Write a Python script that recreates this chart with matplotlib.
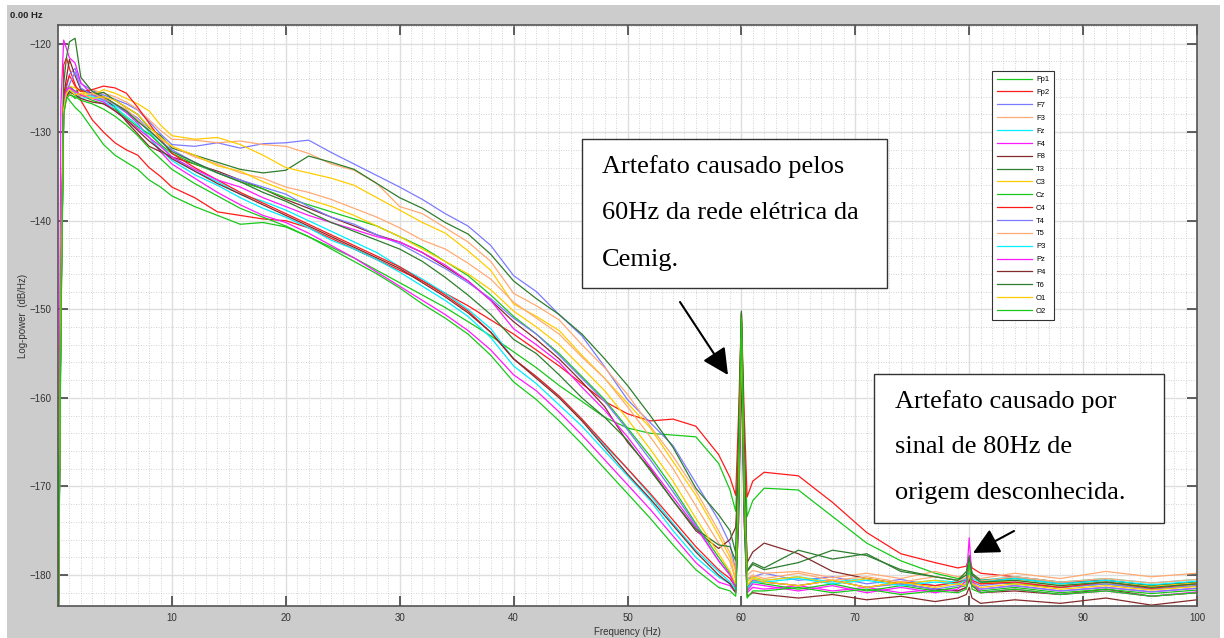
import numpy as np
import matplotlib
matplotlib.use("Agg")
import matplotlib.pyplot as plt
from matplotlib.patches import Rectangle, FancyArrowPatch
from matplotlib.ticker import MultipleLocator

# frequency grid (Hz) the values below were read at
freqs = [0, 0.25, 0.5, 0.75, 1, 1.5, 2, 3, 4,
         5, 6, 7, 8, 9,
         10, 12, 14, 16, 18, 20, 22, 24, 26, 28,
         30, 32, 34, 36, 38, 40, 42, 44, 46, 48,
         50, 52, 54, 56, 58,
         59, 59.5, 59.75, 60, 60.25, 60.5, 61,
         62, 65, 68, 71, 74, 77, 79,
         79.75, 80, 80.25, 81,
         84, 88, 92, 96, 100]

channels = ["Fp1", "Fp2", "F7", "F3", "Fz", "F4", "F8", "T3", "C3", "Cz",
            "C4", "T4", "T5", "P3", "Pz", "P4", "T6", "O1", "O2"]

# log-power (dB/Hz) per channel
fp1 = [-190, -150, -127.4, -126, -126.4, -127.2, -127.8, -129.6, -131.4,
       -132.6, -133.4, -134.2, -135.4, -136.2,
       -137.2, -138.4, -139.4, -140.4, -140.2, -140.7, -141.8, -143, -144.2, -145.6,
       -147, -148.4, -149.8, -151.4, -153, -154.8, -156.6, -158.6, -160.4, -162.2,
       -163.4, -164, -164.2, -164.4, -167.4,
       -170.4, -172.8, -165, -150.6, -165, -173.4, -171.6,
       -170.2, -170.4, -173.4, -176.4, -178.4, -179.8, -180.4,
       -180, -178.2, -180, -180.8,
       -181, -181.4, -181, -181.6, -181.2]
fp2 = [-190, -148, -122.4, -121.6, -122.8, -124.6, -126.4, -128.6, -130,
       -131.2, -132, -132.6, -134, -135,
       -136.2, -137.4, -139, -139.4, -139.8, -140, -140.8, -142, -143.2, -144.4,
       -145.6, -146.8, -148.2, -149.6, -151.2, -152.8, -154.6, -156.4, -158.4, -160.4,
       -161.8, -162.6, -162.4, -163.2, -166.4,
       -169, -171, -162, -150.4, -162, -171.2, -169.4,
       -168.4, -168.8, -171.8, -175.2, -177.6, -178.6, -179.2,
       -179, -178, -179.2, -179.8,
       -180.2, -180.8, -180.6, -181.2, -180.8]
f7 = [-190, -152, -127.5, -125, -123.5, -122.8, -124.5, -125.3, -125.8,
      -126.3, -126.8, -127.5, -128.8, -130.2,
      -131.4, -131.6, -131.2, -131.8, -131.3, -131.2, -130.9, -132.3, -133.6, -134.9,
      -136.2, -137.6, -139.2, -140.6, -142.8, -146.2, -148, -150.6, -153, -156.5,
      -160.2, -162.8, -165.4, -169.6, -173.8,
      -176.5, -179.5, -168, -151.5, -168, -180.5, -180.2,
      -179.8, -180.6, -180.2, -181, -180.5, -181.2, -180.8,
      -180.6, -179.8, -180.8, -181.2,
      -180.8, -181.4, -181, -181.6, -181.2]
f3 = [-190, -150, -127.8, -125.8, -125.2, -125.5, -125.8, -125.2, -125.6,
      -126, -126.6, -127.4, -128.6, -129.8,
      -130.8, -130.9, -131.2, -131, -131.4, -131.6, -132.4, -133.6, -134.3, -135.8,
      -138.4, -139.2, -140.8, -142.4, -144.6, -148.2, -149.6, -151.2, -154, -156.6,
      -159.6, -163.2, -166.6, -170.5, -175,
      -177.5, -179.6, -169, -152.5, -169, -180, -179.5,
      -179.8, -179.6, -180.3, -179.8, -180.4, -179.6, -180.2,
      -180, -179.2, -180.1, -180.4,
      -179.8, -180.4, -179.6, -180.2, -179.8]
fz = [-190, -152, -127.6, -125.8, -125.2, -125.6, -126, -125.8, -126.4,
      -127, -127.8, -128.6, -130, -131.4,
      -132.8, -134.4, -135.6, -137, -137.8, -138.8, -140, -141.2, -142.4, -143.6,
      -145.2, -146.6, -148.2, -150, -152.2, -155.6, -157.6, -159.8, -162.4, -165.4,
      -168, -171, -174.2, -177.2, -179.6,
      -180.8, -181.6, -172, -155, -172, -181.4, -180.4,
      -180.6, -180.2, -180.8, -180.4, -181, -180.6, -180.8,
      -180.4, -179.6, -180.2, -180.6,
      -180.2, -180.8, -180.4, -180.9, -180.5]
f4 = [-190, -127, -119.6, -120.6, -121.6, -122.2, -124.4, -125.8, -126,
      -126.8, -127.8, -129, -130.6, -132.2,
      -133.6, -135.2, -136.8, -138.2, -139.4, -140.2, -141.4, -142.8, -144.2, -145.8,
      -147.4, -149, -150.6, -152.4, -154.6, -157.4, -159.2, -161.6, -164.2, -167,
      -169.8, -172.6, -175.6, -178.6, -180.8,
      -181.2, -182, -174, -156, -174, -182, -181.4,
      -181.6, -181.2, -181.8, -181.4, -182, -181.6, -181.8,
      -181.4, -180.6, -181.2, -181.6,
      -181.2, -181.8, -181.4, -181.9, -181.5]
f8 = [-190, -149, -126, -123.8, -121.8, -123.6, -125.2, -125.6, -126.2,
      -127.2, -128.8, -130.2, -131.6, -132.2,
      -132.8, -133.6, -134.4, -135.4, -136.4, -137.6, -138.6, -139.6, -140.6, -141.6,
      -142.4, -143.6, -145.2, -146.8, -149, -151.4, -153.4, -155.6, -158.2, -161,
      -165, -168, -171.6, -175, -177,
      -176, -174.6, -168, -153, -168, -178.6, -177.4,
      -176.4, -177.6, -179.6, -180.4, -181, -181.6, -181.8,
      -181.4, -180.4, -181.2, -182,
      -181.8, -182.2, -181.6, -182.4, -182]
t3 = [-190, -148, -127, -125.2, -124.8, -125.4, -125.2, -125.8, -125.5,
      -126.4, -127.2, -128, -129.5, -130.4,
      -131.8, -132.6, -133.4, -134.2, -134.6, -134.3, -132.7, -133.4, -134.2, -135.8,
      -137.4, -138.6, -140.2, -141.5, -143.8, -146.8, -148.8, -150.6, -152.8, -155.6,
      -158.6, -162, -165.6, -170.2, -173.2,
      -175, -177.5, -166, -150.2, -166, -179.5, -178.6,
      -179.2, -177.2, -178.2, -177.6, -179.6, -180.2, -180.6,
      -179.6, -177.8, -179.8, -180.6,
      -180.4, -181, -180.6, -181.2, -180.8]
c3 = [-190, -154, -127.5, -125.4, -124.8, -125, -125.4, -125.8, -125.2,
      -125.6, -126.2, -126.8, -127.6, -129.2,
      -130.4, -130.8, -130.6, -131.4, -132.6, -134, -134.6, -135.2, -136, -137.4,
      -138.8, -140.2, -141.4, -143.4, -145.6, -149.4, -150.8, -152.4, -155.2, -157.8,
      -160.6, -163.4, -167.2, -171, -175.5,
      -178, -180.4, -169, -152, -169, -180.8, -180.2,
      -180.6, -180.2, -181, -180.4, -181, -180.6, -181,
      -180.8, -179.6, -180.6, -181,
      -180.6, -181.2, -180.8, -181.3, -180.9]
cz = [-190, -149, -127.2, -125.4, -125.6, -126.2, -125.8, -126.4, -126.8,
      -127.4, -128.4, -129.4, -130.2, -131.4,
      -132.4, -133.6, -134.6, -135.6, -136.4, -137.4, -138.2, -139, -139.8, -140.6,
      -141.8, -143, -144.6, -146.2, -148.4, -150.8, -152.8, -155, -157.6, -160.2,
      -163.4, -166.6, -170.2, -174.2, -178,
      -179.8, -181.2, -171, -151.2, -171, -181.6, -180.8,
      -181, -181.6, -181, -181.8, -181.2, -181.8, -181.4,
      -181.2, -178.4, -181.2, -181.8,
      -181.4, -182, -181.6, -182.1, -181.7]
c4 = [-190, -150, -126.2, -124.6, -123.6, -124.8, -125.4, -125.2, -124.8,
      -125, -125.6, -127.2, -129, -130.8,
      -132.4, -134, -135.4, -136.8, -138, -139.2, -140.4, -141.6, -142.8, -144,
      -145.2, -146.8, -148.4, -150.2, -152.6, -155.6, -157.6, -159.8, -162.4, -165.2,
      -168, -170.8, -173.8, -176.8, -179.4,
      -180.4, -181.4, -170, -151, -170, -181.2, -180.6,
      -180.8, -181.2, -180.6, -181.4, -180.8, -181.2, -180.8,
      -180.6, -179.8, -180.6, -181,
      -180.8, -181.4, -180.8, -181.5, -181]
t4 = [-190, -151, -127.6, -125.6, -124.6, -123.2, -125, -125.8, -126.4,
      -126.8, -127.6, -128.4, -129.8, -131,
      -132, -133.4, -134.6, -135.4, -136.2, -137, -138.4, -139.6, -140.4, -141.6,
      -142.6, -144, -145.4, -147, -148.8, -151, -152.8, -155.2, -157.8, -160.4,
      -163.6, -167, -170.6, -174.4, -178.4,
      -180, -181.4, -172, -153.8, -172, -181.4, -180.6,
      -180.8, -181.2, -180.6, -181.4, -181, -181.6, -181.2,
      -181, -180.2, -181, -181.6,
      -181.2, -181.8, -181.4, -181.9, -181.5]
t5 = [-190, -146, -126.8, -125.6, -125.8, -125.4, -126, -125.6, -126.2,
      -126.8, -127.4, -128.6, -129.8, -130.8,
      -131.6, -132.8, -133.6, -134.6, -135.2, -136.2, -136.8, -137.6, -138.6, -139.6,
      -140.8, -142.2, -143.2, -144.8, -146.6, -149.2, -151, -152.8, -155.4, -157.8,
      -161, -164.4, -168, -172.2, -176.4,
      -178.5, -180.6, -170, -152.8, -170, -180.4, -180,
      -180.4, -179.8, -180.6, -180.2, -180.8, -180.2, -180.6,
      -180.3, -179.4, -180.2, -180.7,
      -180.2, -180.8, -180.4, -180.9, -180.5]
p3 = [-190, -151, -127.2, -125.6, -125.4, -125.8, -126.2, -126, -126.6,
      -127.2, -128.2, -129.2, -130.6, -132,
      -133.2, -134.8, -136, -137.4, -138.6, -139.6, -140.8, -142.2, -143.2, -144.4,
      -145.8, -147.4, -149, -150.8, -153.2, -156.4, -158.4, -160.8, -163.2, -166,
      -168.8, -171.6, -175, -178, -180.2,
      -181, -181.8, -173, -155.6, -173, -181.6, -180.8,
      -180.8, -180.4, -181, -180.6, -181.2, -180.8, -181,
      -180.6, -179.8, -180.4, -180.8,
      -180.4, -181, -180.6, -181.1, -180.7]
pz = [-190, -147, -126.4, -125.2, -125, -125.4, -125.8, -126.2, -126.6,
      -127.6, -128.6, -129.6, -130.6, -131.6,
      -132.8, -134.2, -135.4, -136.2, -137.4, -138.4, -139.4, -140.2, -141, -141.8,
      -142.4, -143.6, -145, -146.8, -149, -152.2, -154, -156, -158.8, -161.4,
      -164.4, -167.8, -171.2, -174.6, -178.4,
      -180, -181.4, -172, -154, -172, -181.8, -181,
      -181.2, -181.8, -181.2, -182, -181.4, -182, -181.6,
      -180.6, -175.8, -180.6, -182,
      -181.6, -182.2, -181.8, -182.4, -181.9]
p4 = [-190, -151, -127.8, -126, -125.4, -125.8, -126.2, -126.6, -126.8,
      -127.6, -128.6, -129.8, -131, -132,
      -133, -134.4, -135.8, -137, -138.2, -139.4, -140.6, -141.8, -143, -144.2,
      -145.4, -147, -148.6, -150.4, -152.6, -155.6, -157.8, -160, -162.6, -165.6,
      -168.6, -171.4, -174.4, -177.4, -180,
      -181, -182, -174, -156.5, -174, -182.4, -182,
      -182.2, -182.6, -182.2, -182.8, -182.4, -183, -182.6,
      -182.2, -181.4, -182.6, -183.2,
      -182.8, -183.2, -182.6, -183.4, -182.8]
t6 = [-190, -150, -124.5, -121.5, -119.8, -119.4, -123.8, -125.4, -126,
      -126.8, -127.6, -128.8, -129.8, -131,
      -132.2, -133.4, -134.6, -135.6, -136.8, -137.8, -139, -140.2, -141.2, -142.2,
      -143.2, -144.6, -146.4, -148.4, -150.6, -153.4, -155, -157.4, -160, -162.2,
      -164.8, -168.2, -171.6, -174.8, -176.6,
      -176.8, -178.4, -165, -150.4, -165, -179.6, -178.8,
      -179.4, -178.6, -177.2, -177.8, -179.4, -180.2, -180.6,
      -180, -178, -180, -180.8,
      -180.6, -181.2, -180.8, -181.4, -181]
o1 = [-190, -150, -127.4, -125.6, -125.2, -125.8, -125.6, -126.2, -126,
      -126.4, -127.2, -128, -129.4, -130.6,
      -131.6, -132.6, -133.8, -134.4, -135.6, -136.6, -137.6, -138.4, -139.4, -140.6,
      -141.8, -143.2, -144.6, -146, -147.8, -150.2, -152, -154, -156.6, -159.2,
      -162.4, -165.8, -169.4, -173.6, -177.6,
      -179.6, -181, -171, -153.4, -171, -181.2, -180.4,
      -180.8, -181.2, -180.6, -181.4, -180.8, -181.4, -181,
      -181.2, -180, -181, -181.4,
      -181, -181.6, -181.2, -181.7, -181.3]
o2 = [-190, -153, -128, -126.2, -125.8, -126, -126.4, -126.8, -127.4,
      -128.2, -129.2, -130.4, -131.8, -133,
      -134.2, -135.8, -137.2, -138.6, -139.6, -140.6, -141.8, -143.2, -144.6, -146,
      -147.6, -149.4, -151, -152.8, -155.2, -158.2, -160.2, -162.6, -165.2, -168,
      -170.8, -173.6, -176.6, -179.4, -181.4,
      -181.8, -182.4, -172, -151, -172, -182.6, -181.8,
      -181.8, -181.4, -182, -181.6, -182.2, -181.8, -182,
      -181.6, -178.6, -181.6, -182,
      -181.6, -182.2, -181.8, -182.4, -182]

spectra = [fp1, fp2, f7, f3, fz, f4, f8, t3, c3, cz,
           c4, t4, t5, p3, pz, p4, t6, o1, o2]

GREEN = "#19c819"
RED = "#ff1a1a"
BLUE = "#7b7bff"
PEACH = "#ffab73"
CYAN = "#00eeff"
MAGENTA = "#ff19ff"
BROWN = "#852a2a"
DKGREEN = "#2e7d2e"
YELLOW = "#ffcc00"
cycle = [GREEN, RED, BLUE, PEACH, CYAN, MAGENTA, BROWN, DKGREEN, YELLOW]
colors = [cycle[i % len(cycle)] for i in range(len(channels))]

W, H = 1224, 638
def fx(px):
    return px / W
def fy(py):
    return 1 - py / H

fig = plt.figure(figsize=(W / 100, H / 100), dpi=100, facecolor="white")
fig.add_artist(Rectangle((fx(7), 0), fx(1220) - fx(7), fy(5), transform=fig.transFigure,
                         facecolor="#cccccc", edgecolor="none", zorder=-10))

ax = fig.add_axes([fx(58), fy(606), fx(1197) - fx(58), fy(25) - fy(606)])
ax.set_facecolor("white")

for name, vals, col in zip(channels, spectra, colors):
    assert len(vals) == len(freqs), name
    ax.plot(freqs, vals, color=col, lw=0.9, label=name)

ax.set_xlim(0, 100)
ax.set_ylim(-183.5, -117.9)
ax.set_xticks(np.arange(10, 101, 10))
ax.set_yticks(np.arange(-180, -119, 10))
ax.xaxis.set_minor_locator(MultipleLocator(1))
ax.yaxis.set_minor_locator(MultipleLocator(2))
ax.grid(which="major", color="#dedede", lw=1, ls="-")
ax.grid(which="minor", color="#c4c4c4", lw=0.6, ls=(0, (1, 2)))
ax.set_axisbelow(True)
ax.tick_params(which="major", direction="in", length=7, width=1.2, color="#444444",
               top=True, right=True, labelsize=7, labelcolor="#333333", pad=5)
ax.tick_params(which="minor", length=0)
for lab in ax.get_xticklabels() + ax.get_yticklabels():
    lab.set_family("Liberation Sans")
for s in ax.spines.values():
    s.set_color("#555555")
    s.set_linewidth(1.2)

fig.text(fx(627), fy(632), "Frequency (Hz)", ha="center", va="center", size=7,
         family="Liberation Sans", color="#333333")
fig.text(fx(23), fy(316), "Log-power  (dB/Hz)", ha="center", va="center", size=7,
         rotation=90, family="Liberation Sans", color="#333333")
fig.text(fx(10), fy(16), "0.00 Hz", ha="left", va="center", size=6.8, weight="bold",
         family="Liberation Sans", color="#222222")

leg = ax.legend(loc="upper left", bbox_to_anchor=(fx(992), fy(71)), bbox_transform=fig.transFigure,
                prop={"family": "Liberation Sans", "size": 5.5}, frameon=True, fancybox=False,
                edgecolor="#333333", framealpha=1, borderaxespad=0, labelspacing=0.72,
                handlelength=4.6, handletextpad=0.5, borderpad=0.65)
leg.get_frame().set_linewidth(0.8)

# annotation boxes
def note_box(x0, y0, x1, y1, lines, tx, tys):
    fig.add_artist(Rectangle((fx(x0), fy(y1)), fx(x1) - fx(x0), fy(y0) - fy(y1),
                             transform=fig.transFigure, facecolor="white",
                             edgecolor="#333333", lw=1, zorder=5))
    for txt, ty in zip(lines, tys):
        fig.text(fx(tx), fy(ty), txt, ha="left", va="center", size=19,
                 family="Liberation Serif", color="black", zorder=6)

note_box(582, 139, 887, 288,
         ["Artefato causado pelos", "60Hz da rede elétrica da", "Cemig."],
         602, [167, 213, 260])
note_box(874, 374, 1164, 523,
         ["Artefato causado por", "sinal de 80Hz de", "origem desconhecida."],
         895, [402, 447, 493])

for (xa, ya), (xb, yb) in [((680, 302), (728, 375)), ((1014, 531), (973, 553))]:
    fig.add_artist(FancyArrowPatch((fx(xa), fy(ya)), (fx(xb), fy(yb)), transform=fig.transFigure,
                                   arrowstyle="-|>,head_length=0.8,head_width=0.4",
                                   mutation_scale=20, lw=1.5, color="black",
                                   shrinkA=0, shrinkB=0, zorder=6))

fig.savefig("out.png", dpi=100, facecolor=fig.get_facecolor())
